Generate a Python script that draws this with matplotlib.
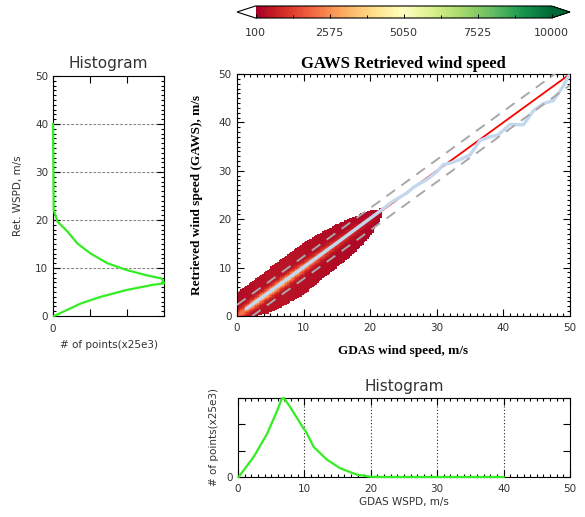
import numpy as np
import matplotlib.pyplot as plt
from matplotlib.colors import Normalize
from matplotlib.ticker import MultipleLocator, FixedLocator

# --- values ---

# density cloud: outline and counts along GDAS speed (m/s)
cloud_x = [0.0, 2.5, 5.0, 7.5, 10.0, 12.5, 15.0, 17.5, 20.0, 21.7]
cloud_lo = [0.0, 0.0, 0.7, 2.4, 4.4, 7.3, 10.0, 12.8, 16.5, 20.3]
cloud_hi = [4.9, 7.4, 10.0, 12.7, 15.2, 17.2, 19.0, 20.5, 21.9, 22.2]
ridge_cnt = [1500, 2600, 3000, 2800, 2300, 1700, 1100, 700, 400, 150]
body_cnt = [350, 450, 500, 500, 450, 400, 350, 300, 250, 200]

# mean retrieved speed per GDAS bin (light blue line)
mean_x = [1.4, 5.0, 10.0, 15.0, 21.7, 23.4, 25.5, 26.5, 28.5, 30.0, 31.0, 32.0,
          33.5, 35.0, 36.5, 38.0, 39.2, 41.0, 43.0, 44.5, 46.0, 47.5, 49.0, 49.8]
mean_y = [1.5, 5.1, 10.1, 15.1, 21.9, 23.7, 25.4, 26.6, 28.2, 29.8, 31.3, 31.6,
          32.3, 33.3, 36.3, 37.0, 37.4, 39.6, 39.5, 42.4, 43.9, 44.5, 47.5, 49.6]

# 1:1 line and the +/- band
one_to_one = [0, 50]
band = 2.3

# histogram of retrieved speed (x25e3 points)
ret_spd = [0.0, 2.6, 4.0, 5.4, 6.5, 6.8, 7.8, 8.5, 9.6, 11.0, 13.0, 15.1, 17.6, 19.7, 22.0, 40.0]
ret_cnt = [0.03, 0.75, 1.29, 1.98, 2.70, 3.0, 2.94, 2.52, 1.98, 1.47, 1.02, 0.66, 0.39, 0.12, 0.02, 0.0]

# histogram of GDAS speed (x25e3 points)
gdas_spd = [0.1, 2.4, 4.4, 5.9, 6.6, 6.9, 7.9, 9.9, 10.2, 11.4, 13.4, 15.4, 17.9, 19.9, 22.0, 40.0]
gdas_cnt = [0.0, 0.78, 1.65, 2.52, 2.97, 3.0, 2.64, 1.83, 1.74, 1.14, 0.66, 0.33, 0.09, 0.01, 0.0, 0.0]

cbar_ticks = [100, 2575, 5050, 7525, 10000]

W, H = 585, 517
fig = plt.figure(figsize=(W / 100, H / 100), dpi=100)


def box(l, t, r, b):
    # pixel box -> figure fraction
    return [l / W, 1 - b / H, (r - l) / W, (b - t) / H]


sans_lbl = dict(fontsize=7.5, color='#333333', family='DejaVu Sans')
serif_lbl = dict(fontsize=9.5, fontweight='bold', family='Liberation Serif')


def style(ax, xminor, yminor):
    ax.tick_params(which='both', direction='in', top=True, right=True,
                   labelsize=7.5, labelcolor='#333333', width=0.8)
    ax.tick_params(which='major', length=5)
    ax.tick_params(which='minor', length=2.5)
    ax.xaxis.set_minor_locator(MultipleLocator(xminor))
    ax.yaxis.set_minor_locator(MultipleLocator(yminor))
    for s in ax.spines.values():
        s.set_linewidth(0.8)


# --- main density plot ---
ax = fig.add_axes(box(237, 74, 570, 316))
cmap = plt.get_cmap('RdYlGn').copy()
cmap.set_under('white')
cmap.set_bad((1, 1, 1, 0))
norm = Normalize(100, 10000)

step = 0.25
edges = np.arange(0, 50 + step, step)
xc = edges[:-1] + step / 2
X, Y = np.meshgrid(xc, xc)
lo = np.interp(xc, cloud_x, cloud_lo)
hi = np.interp(xc, cloud_x, cloud_hi)
ridge = np.interp(xc, cloud_x, ridge_cnt)
body = np.interp(xc, cloud_x, body_cnt)
inside = (Y >= lo) & (Y <= hi) & (X <= cloud_x[-1])
counts = np.ma.masked_where(~inside, body + ridge * np.exp(-((Y - X) / 1.0) ** 2))

ax.plot(one_to_one, one_to_one, color='red', lw=1.3, zorder=1)
mesh = ax.pcolormesh(edges, edges, counts, cmap=cmap, norm=norm, zorder=2, rasterized=True)
ax.plot(mean_x, mean_y, color='#c3d8ee', lw=2.4, zorder=3, solid_capstyle='round')
ax.plot(np.array(one_to_one), np.array(one_to_one) + band, color='#a8a8a8',
        lw=1.4, dashes=(5.5, 4), zorder=4)
ax.plot(np.array(one_to_one), np.array(one_to_one) - band, color='#a8a8a8',
        lw=1.4, dashes=(5.5, 4), zorder=4)
ax.set_xlim(0, 50)
ax.set_ylim(0, 50)
ax.xaxis.set_major_locator(MultipleLocator(10))
ax.yaxis.set_major_locator(MultipleLocator(10))
style(ax, 1, 1)
ax.tick_params(axis='x', pad=5)
ax.tick_params(axis='y', pad=4)
ax.set_title('GAWS Retrieved wind speed', fontsize=12, fontweight='bold',
             family='Liberation Serif', pad=4)
ax.set_xlabel('GDAS wind speed, m/s', labelpad=9, **serif_lbl)
ax.set_ylabel('Retrieved wind speed (GAWS), m/s', labelpad=11, **serif_lbl)

# --- colorbar (extension triangles sit inside this box) ---
cax = fig.add_axes(box(237, 6, 570, 18))
cb = fig.colorbar(mesh, cax=cax, orientation='horizontal', extend='both',
                  extendfrac=0.0625, ticks=cbar_ticks)
cb.outline.set_linewidth(0.8)
cax.xaxis.set_minor_locator(FixedLocator(np.arange(100, 10001, 1237.5)))
cax.tick_params(which='both', direction='in', labelsize=8, labelcolor='#333333',
                width=0.7, pad=7)
cax.tick_params(which='major', length=3)
cax.tick_params(which='minor', length=2)

# --- histogram of retrieved speed (left) ---
axl = fig.add_axes(box(53, 76, 164, 316))
for g in [10, 20, 30, 40]:
    axl.axhline(g, color='#888888', lw=0.8, dashes=(2.5, 1.5), zorder=1)
axl.plot(ret_cnt, ret_spd, color='#33ee22', lw=1.6, zorder=3, clip_on=False)
axl.set_xlim(0, 3)
axl.set_ylim(0, 50)
axl.xaxis.set_major_locator(FixedLocator([0, 1, 2, 3]))
axl.set_xticklabels(['0', '', '', ''])
axl.yaxis.set_major_locator(MultipleLocator(10))
style(axl, 3, 1)
axl.tick_params(axis='x', pad=6)
axl.set_title('Histogram', fontsize=11, color='#333333', pad=6)
axl.set_xlabel('# of points(x25e3)', labelpad=4, **sans_lbl)
axl.set_ylabel('Ret. WSPD, m/s', labelpad=9, **sans_lbl)

# --- histogram of GDAS speed (bottom) ---
axb = fig.add_axes(box(238, 398, 570, 477))
for g in [10, 20, 30, 40]:
    axb.axvline(g, color='#222222', lw=0.8, ls=(0, (1, 2)), zorder=1)
axb.plot(gdas_spd, gdas_cnt, color='#33ee22', lw=1.6, zorder=3, clip_on=False)
axb.set_xlim(0, 50)
axb.set_ylim(0, 3)
axb.xaxis.set_major_locator(MultipleLocator(10))
axb.yaxis.set_major_locator(FixedLocator([0, 1, 2, 3]))
axb.set_yticklabels(['0', '', '', ''])
style(axb, 1, 3)
axb.tick_params(axis='x', pad=5)
axb.tick_params(axis='y', pad=4)
axb.set_title('Histogram', fontsize=11, color='#333333', pad=5)
axb.set_xlabel('GDAS WSPD, m/s', labelpad=2, **sans_lbl)
axb.set_ylabel('# of points(x25e3)', labelpad=5, **sans_lbl)

fig.savefig('out.png', dpi=100)
